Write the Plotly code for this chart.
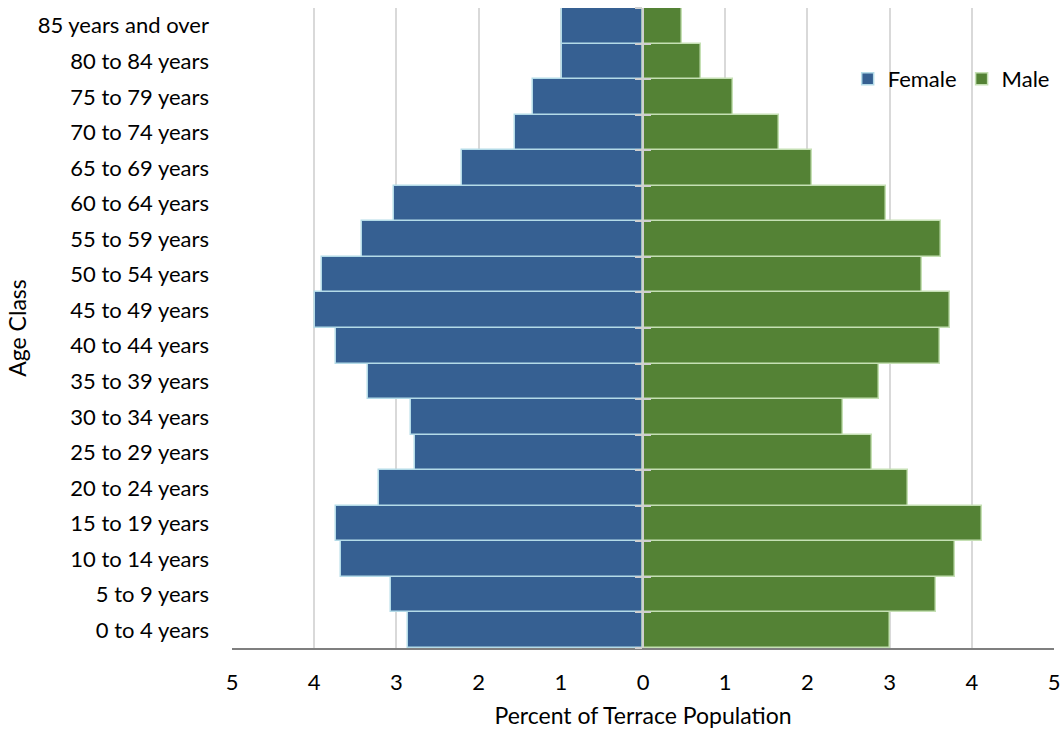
import plotly.graph_objects as go

age_classes = [
    "0 to 4 years", "5 to 9 years", "10 to 14 years", "15 to 19 years",
    "20 to 24 years", "25 to 29 years", "30 to 34 years", "35 to 39 years",
    "40 to 44 years", "45 to 49 years", "50 to 54 years", "55 to 59 years",
    "60 to 64 years", "65 to 69 years", "70 to 74 years", "75 to 79 years",
    "80 to 84 years", "85 years and over",
]
female_pct = [2.86, 3.07, 3.68, 3.73, 3.21, 2.77, 2.82, 3.34, 3.73, 3.99,
              3.90, 3.42, 3.03, 2.20, 1.56, 1.34, 0.99, 0.99]
male_pct = [3.00, 3.57, 3.79, 4.13, 3.22, 2.78, 2.43, 2.87, 3.61, 3.74,
            3.39, 3.62, 2.96, 2.05, 1.66, 1.09, 0.70, 0.48]
x_ticks = [-5, -4, -3, -2, -1, 0, 1, 2, 3, 4, 5]
x_tick_text = [str(abs(v)) for v in x_ticks]

FONT = "Lato, Carlito, Calibri, sans-serif"
FEMALE = "#366092"
MALE = "#548235"

fig = go.Figure()
fig.add_trace(go.Bar(
    y=age_classes, x=[-v for v in female_pct], orientation="h", name="Female",
    marker=dict(color=FEMALE, line=dict(color="#b4dbe8", width=1.5)),
))
fig.add_trace(go.Bar(
    y=age_classes, x=male_pct, orientation="h", name="Male",
    marker=dict(color=MALE, line=dict(color="#c5e0b4", width=1.5)),
))

# category-boundary tick marks crossing the central axis
n = len(age_classes)
boundaries = [i - 0.5 for i in range(n + 1)]
for ax_name, side in (("yaxis2", "outside"), ("yaxis3", "inside")):
    fig.add_trace(go.Scatter(x=[None], y=[None], yaxis=ax_name.replace("axis", ""),
                             showlegend=False, hoverinfo="skip"))
    fig.update_layout(**{ax_name: dict(
        overlaying="y", anchor="free", position=0.5, side="left",
        range=[-0.5, n - 0.5], tickvals=boundaries, showticklabels=False,
        ticks=side, ticklen=7, tickcolor="#d0d0d0", tickwidth=1.5,
        showline=True, linecolor="#d0d0d0", linewidth=1.5,
        showgrid=False, zeroline=False, fixedrange=True,
    )})

fig.update_layout(
    width=1062, height=729,
    margin=dict(l=232, r=8, t=8, b=81, autoexpand=False),
    paper_bgcolor="white", plot_bgcolor="white",
    barmode="relative", bargap=0,
    font=dict(family=FONT, size=22, color="#000000"),
    xaxis=dict(
        range=[-5, 5], tickvals=x_ticks, ticktext=x_tick_text,
        showgrid=True, gridcolor="#d9d9d9", gridwidth=1.5,
        zeroline=False, showline=True, linecolor="#7f7f7f", linewidth=1.5,
        ticks="", ticklabelstandoff=14, automargin=False,
        title=dict(text="Percent of Terrace Population", standoff=14,
                   font=dict(size=23)),
    ),
    yaxis=dict(
        range=[-0.5, n - 0.5], showgrid=False, zeroline=False, ticks="",
        ticklabelstandoff=22, automargin=False,
        title=dict(text="Age Class", standoff=4, font=dict(size=23)),
    ),
    legend=dict(
        orientation="h", x=0.749, y=0.889, xanchor="left", yanchor="middle",
        font=dict(size=22), bgcolor="rgba(0,0,0,0)", itemwidth=30,
        traceorder="normal",
    ),
)

fig.write_html("out.html")
